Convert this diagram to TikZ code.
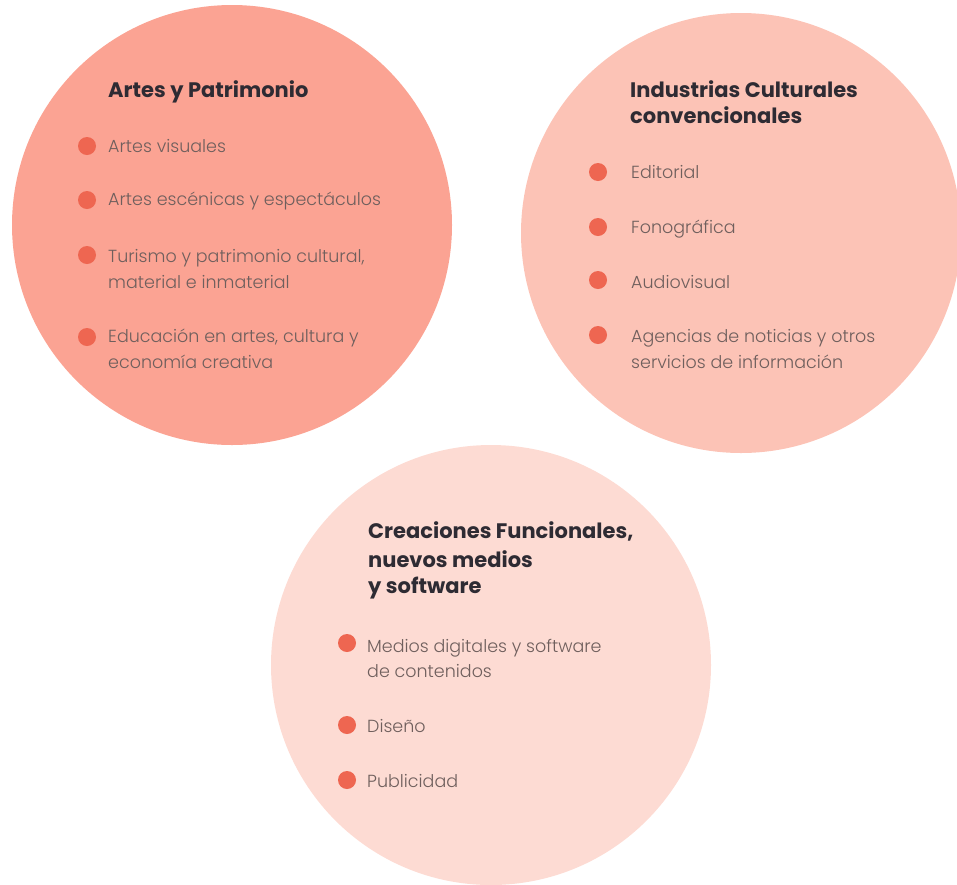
\documentclass[tikz,border=0pt]{standalone}
\usepackage{fontspec}
\setmainfont{Poppins}
\newfontfamily\lightfont{Poppins Light}
\usetikzlibrary{positioning}

\definecolor{circA}{HTML}{FBA393}
\definecolor{circB}{HTML}{FCC3B6}
\definecolor{circC}{HTML}{FDDBD3}
\definecolor{dotred}{HTML}{EE6651}
\definecolor{itemgray}{HTML}{6F5F5D}
\definecolor{titledark}{HTML}{2E2B33}

\tikzset{
  sector/.style={circle, minimum size=440pt, inner sep=0pt},
  title/.style={anchor=base west, inner sep=0pt, text=titledark,
    font=\bfseries\fontsize{21}{24}\selectfont},
  item/.style={anchor=base west, inner sep=0pt, text=itemgray,
    font=\lightfont\fontsize{17.5}{21}\selectfont},
  bullet/.style={circle, fill=dotred, minimum size=18pt, inner sep=0pt},
}

\begin{document}
\begin{tikzpicture}[x=1pt,y=-1pt]
\useasboundingbox (0,0) rectangle (957,884);

% the three sectors
\node[sector, fill=circA] (artes) at (232,225) {};
\node[sector, fill=circB] (industrias) at (741,233) {};
\node[sector, fill=circC] (creaciones) at (491,665) {};

% Artes y Patrimonio
\node[title] (tA) at (108,97) {Artes y Patrimonio};
\node[bullet] (dA1) at (87,146) {};
\node[item] (iA1) at (108,152) {Artes visuales};
\node[bullet] (dA2) at (87,200) {};
\node[item] (iA2) at (108,205) {Artes escénicas y espectáculos};
\node[bullet] (dA3) at (87,255) {};
\node[item] (iA3) at (108,262) {Turismo y patrimonio cultural,};
\node[item] (iA3b) at (108,288) {material e inmaterial};
\node[bullet] (dA4) at (87,337) {};
\node[item] (iA4) at (108,342) {Educación en artes, cultura y};
\node[item] (iA4b) at (108,368) {economía creativa};

% Industrias Culturales convencionales
\node[title] (tB) at (630,97) {Industrias Culturales};
\node[title] (tBb) at (630,123) {convencionales};
\node[bullet] (dB1) at (598,172) {};
\node[item] (iB1) at (631,178) {Editorial};
\node[bullet] (dB2) at (598,227) {};
\node[item] (iB2) at (631,233) {Fonográfica};
\node[bullet] (dB3) at (598,280) {};
\node[item] (iB3) at (631,288) {Audiovisual};
\node[bullet] (dB4) at (598,335) {};
\node[item] (iB4) at (631,342) {Agencias de noticias y otros};
\node[item] (iB4b) at (631,368) {servicios de información};

% Creaciones Funcionales, nuevos medios y software
\node[title] (tC) at (368,538) {Creaciones Funcionales,};
\node[title] (tCb) at (368,567) {nuevos medios};
\node[title] (tCc) at (368,593) {y software};
\node[bullet] (dC1) at (347,643) {};
\node[item] (iC1) at (367,652) {Medios digitales y software};
\node[item] (iC1b) at (367,677) {de contenidos};
\node[bullet] (dC2) at (347,725) {};
\node[item] (iC2) at (367,732) {Diseño};
\node[bullet] (dC3) at (347,780) {};
\node[item] (iC3) at (367,787) {Publicidad};
\end{tikzpicture}
\end{document}
